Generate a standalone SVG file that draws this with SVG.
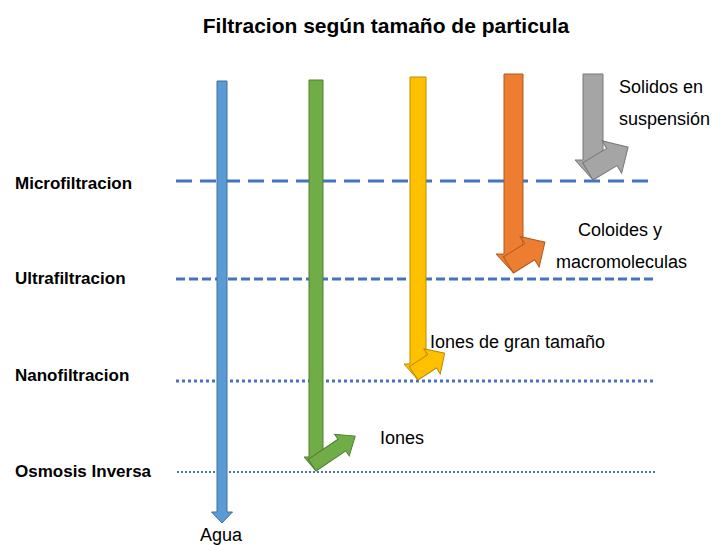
<svg xmlns="http://www.w3.org/2000/svg" width="713" height="545" viewBox="0 0 713 545">
<style>
.title{font-family:"Liberation Sans",Arial,sans-serif;font-weight:bold;font-size:21px;fill:#000}
.lvl{font-family:"Liberation Sans",Arial,sans-serif;font-weight:bold;font-size:17px;fill:#000}
.lbl{font-family:"Liberation Sans",Arial,sans-serif;font-size:18px;fill:#000}
.dash1{stroke:#4472C4;stroke-width:3;stroke-dasharray:16 8;fill:none}
.dash2{stroke:#4472C4;stroke-width:3;stroke-dasharray:9 4;fill:none}
.dot1{stroke:#4472C4;stroke-width:3;stroke-dasharray:3 3;fill:none}
.dot2{stroke:#4472C4;stroke-width:2;stroke-dasharray:2 2;fill:none}
.blue{fill:#5B9BD5;stroke:#41719C;stroke-width:1}
.green{fill:#70AD47;stroke:#507E32;stroke-width:1}
.yellow{fill:#FFC000;stroke:#BC8C00;stroke-width:1}
.orange{fill:#ED7D31;stroke:#AE5A21;stroke-width:1}
.gray{fill:#A5A5A5;stroke:#787878;stroke-width:1}
</style>
<rect width="713" height="545" fill="#fff"/>
<g id="title"><text class="title" x="386" y="33" text-anchor="middle">Filtracion según tamaño de particula</text></g>

<g id="connectors">
<line class="dash1" x1="176" y1="181" x2="655" y2="181"/>
<line class="dash2" x1="176" y1="279" x2="655" y2="279"/>
<line class="dot1" x1="176" y1="381" x2="653" y2="381"/>
<line class="dot2" x1="177" y1="472" x2="655" y2="472"/>
</g>

<g id="level-micro"><text class="lvl" x="15" y="189">Microfiltracion</text></g>
<g id="level-ultra"><text class="lvl" x="15" y="284">Ultrafiltracion</text></g>
<g id="level-nano"><text class="lvl" x="15" y="381">Nanofiltracion</text></g>
<g id="level-osmosis"><text class="lvl" x="15" y="477">Osmosis Inversa</text></g>

<g id="arrow-agua">
<polygon class="blue" points="217,81 227,81 227,512 232.5,512 222,523 211.5,512 217,512"/>
<text class="lbl" x="200" y="541">Agua</text>
</g>

<g id="arrow-iones">
<polygon class="green" points="309,80 323,80 323,457 328,457 316,471 304,457 309,457"/>
<polygon class="green" transform="translate(316,471) rotate(-34)" points="0,0 0,-14 36,-14 36,-20 52,-7 36,6 36,0"/>
<text class="lbl" x="380" y="444">Iones</text>
</g>

<g id="arrow-iones-gran">
<polygon class="yellow" points="410,77 426,77 426,364 432,364 418,380 404,364 410,364"/>
<polygon class="yellow" transform="translate(418,380) rotate(-33)" points="0,0 0,-16 22,-16 22,-23 37,-8 22,7 22,0"/>
<text class="lbl" x="430" y="348">Iones de gran tamaño</text>
</g>

<g id="arrow-coloides">
<polygon class="orange" points="504,74 523,74 523,254 531,254 513.5,273 496,254 504,254"/>
<polygon class="orange" transform="translate(513.5,273) rotate(-32)" points="0,0 0,-19 25,-19 25,-27.5 43,-9.5 25,8.5 25,0"/>
<text class="lbl" x="578" y="236">Coloides y</text>
<text class="lbl" x="556" y="268">macromoleculas</text>
</g>

<g id="arrow-solidos">
<polygon class="gray" points="583,74 603,74 603,160 611,160 593,180 575,160 583,160"/>
<polygon class="gray" transform="translate(593,180) rotate(-31)" points="0,0 0,-20 28,-20 28,-29 47,-10 28,9 28,0"/>
<text class="lbl" x="619" y="93">Solidos en</text>
<text class="lbl" x="619" y="125">suspensión</text>
</g>
</svg>
